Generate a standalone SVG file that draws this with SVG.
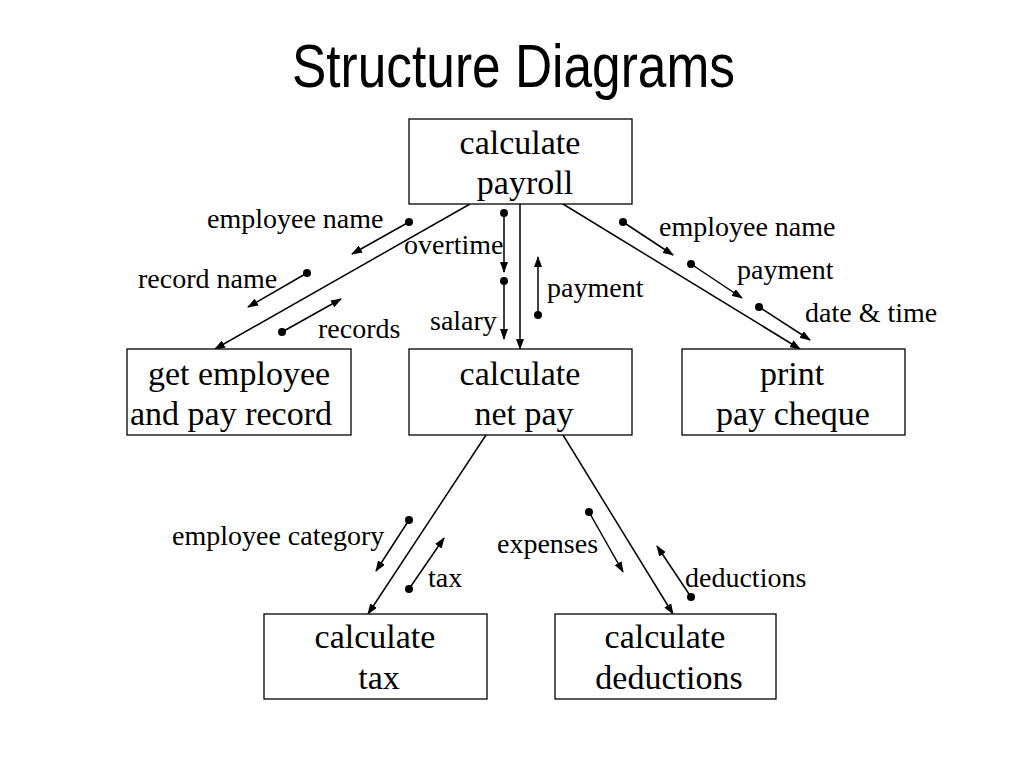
<svg xmlns="http://www.w3.org/2000/svg" width="1024" height="768" viewBox="0 0 1024 768">
<defs>
<marker id="ah" markerUnits="userSpaceOnUse" markerWidth="11" markerHeight="8" refX="10" refY="4" orient="auto">
<path d="M0,0 L11,4 L0,8 z" fill="#000"/>
</marker>
<style>
.box{fill:#fff;stroke:#000;stroke-width:1.3}
.bt{font-family:"Liberation Serif","Times New Roman",serif;font-size:34px;fill:#000;text-anchor:middle}
.lb{font-family:"Liberation Serif","Times New Roman",serif;font-size:28px;fill:#000}
.ln{stroke:#000;stroke-width:1.5;fill:none;marker-end:url(#ah)}
.dot{fill:#000}
</style>
</defs>
<rect width="1024" height="768" fill="#fff"/>
<text x="292" y="87" font-family="Liberation Sans, Arial, sans-serif" font-size="62" textLength="443" lengthAdjust="spacingAndGlyphs">Structure Diagrams</text>

<g id="connectors">
<path class="ln" d="M470,204 L215,349"/>
<path class="ln" d="M520,204 L520,349"/>
<path class="ln" d="M563,204 L800,349"/>
<path class="ln" d="M486,435 L368,614"/>
<path class="ln" d="M563,435 L673,614"/>
</g>

<g id="couples">
<g id="c-empname-l"><circle class="dot" cx="409" cy="222" r="4"/><path class="ln" d="M409,222 L352,254"/><text class="lb" x="207" y="228">employee name</text></g>
<g id="c-recname"><circle class="dot" cx="307" cy="273" r="4"/><path class="ln" d="M307,273 L248,307"/><text class="lb" x="138" y="288">record name</text></g>
<g id="c-records"><circle class="dot" cx="282" cy="332" r="4"/><path class="ln" d="M282,332 L341,299"/><text class="lb" x="318" y="338">records</text></g>
<g id="c-overtime"><circle class="dot" cx="504" cy="213" r="4"/><path class="ln" d="M504,213 L504,272"/><text class="lb" x="404" y="254">overtime</text></g>
<g id="c-salary"><circle class="dot" cx="504" cy="281" r="4"/><path class="ln" d="M504,281 L504,339"/><text class="lb" x="430" y="330">salary</text></g>
<g id="c-payment-c"><circle class="dot" cx="538" cy="315" r="4"/><path class="ln" d="M538,315 L538,257"/><text class="lb" x="547" y="297">payment</text></g>
<g id="c-empname-r"><circle class="dot" cx="623" cy="222" r="4"/><path class="ln" d="M623,222 L673,255"/><text class="lb" x="659" y="236">employee name</text></g>
<g id="c-payment-r"><circle class="dot" cx="691" cy="264" r="4"/><path class="ln" d="M691,264 L742,298"/><text class="lb" x="737" y="279">payment</text></g>
<g id="c-datetime"><circle class="dot" cx="759" cy="307" r="4"/><path class="ln" d="M759,307 L810,340"/><text class="lb" x="805" y="322">date &amp; time</text></g>
<g id="c-empcat"><circle class="dot" cx="409" cy="520" r="4"/><path class="ln" d="M409,520 L376,571"/><text class="lb" x="172" y="545">employee category</text></g>
<g id="c-tax"><circle class="dot" cx="409" cy="589" r="4"/><path class="ln" d="M409,589 L444,538"/><text class="lb" x="428" y="587">tax</text></g>
<g id="c-expenses"><circle class="dot" cx="589" cy="512" r="4"/><path class="ln" d="M589,512 L623,572"/><text class="lb" x="497" y="553">expenses</text></g>
<g id="c-deductions"><circle class="dot" cx="691" cy="597" r="4"/><path class="ln" d="M691,597 L657,546"/><text class="lb" x="685" y="587">deductions</text></g>
</g>

<g id="n-payroll"><rect class="box" x="409" y="119" width="223" height="85"/><text class="bt" x="520" y="154">calculate</text><text class="bt" x="525" y="194">payroll</text></g>
<g id="n-getemp"><rect class="box" x="127" y="349" width="224" height="86"/><text class="bt" x="239" y="385">get employee</text><text class="bt" x="231" y="425">and pay record</text></g>
<g id="n-netpay"><rect class="box" x="409" y="349" width="223" height="86"/><text class="bt" x="520" y="385">calculate</text><text class="bt" x="524" y="425">net pay</text></g>
<g id="n-print"><rect class="box" x="682" y="349" width="223" height="86"/><text class="bt" x="792" y="385">print</text><text class="bt" x="793" y="425">pay cheque</text></g>
<g id="n-tax"><rect class="box" x="264" y="614" width="223" height="85"/><text class="bt" x="375" y="648">calculate</text><text class="bt" x="379" y="689">tax</text></g>
<g id="n-deductions"><rect class="box" x="555" y="614" width="221" height="85"/><text class="bt" x="665" y="648">calculate</text><text class="bt" x="669" y="689">deductions</text></g>
</svg>
